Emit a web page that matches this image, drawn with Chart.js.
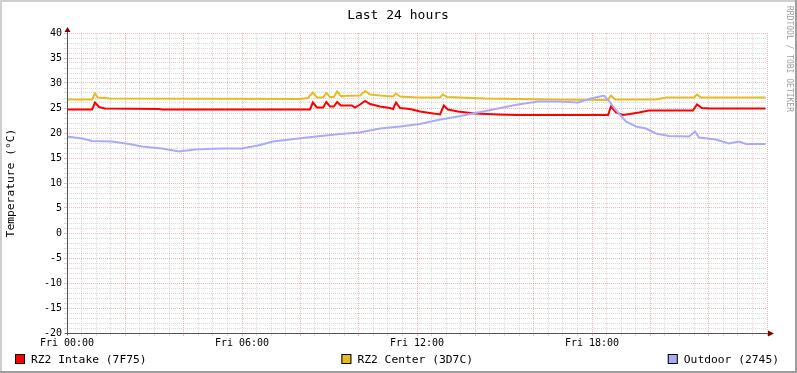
<!doctype html>
<html lang="en">
  <head>
    <meta charset="utf-8">
    <style>
      * { margin: 0; padding: 0; }
      body { background: #fff; }
      canvas { display: block; }
    </style>
  </head>
  <body>
    <canvas id="myChart" width="797" height="373"></canvas>
    <script src="https://cdn.jsdelivr.net/npm/chart.js/dist/chart.umd.min.js"></script>
    <script>
    // data: hours since Fri 00:00, temperatures in °C
    const seriesNames = ['RZ2 Intake (7F75)', 'RZ2 Center (3D7C)', 'Outdoor (2745)'];
    const seriesColors = ['#FF0000', '#E6BC22', '#AAAAF7'];

    const intakeTimes = [0, 0.86, 0.96, 1.10, 1.30, 3.15, 3.26, 8.33, 8.43, 8.57, 8.78, 8.89, 9.02, 9.15, 9.26, 9.39,
      9.77, 9.87, 10.05, 10.22, 10.39, 10.73, 11.07, 11.18, 11.28, 11.42, 11.76, 12.1, 12.44, 12.79, 12.92, 13.06,
      13.4, 13.99, 14.78, 15.46, 18.55, 18.65, 18.82, 19.06, 19.3, 19.61, 19.95, 21.46, 21.6, 21.77, 22.04, 23.95];
    const intakeTemps = [24.7, 24.7, 26.1, 25.2, 24.9, 24.8, 24.7, 24.7, 26.1, 25.1, 25.1, 26.2, 25.3, 25.3, 26.2, 25.5,
      25.5, 25.1, 25.7, 26.4, 25.8, 25.3, 25.0, 24.8, 26.1, 25.0, 24.8, 24.3, 24.0, 23.7, 25.5, 24.7,
      24.3, 23.9, 23.7, 23.6, 23.6, 25.3, 24.1, 23.6, 23.8, 24.1, 24.5, 24.5, 25.7, 25.0, 24.9, 24.9];

    const centerTimes = [0, 0.86, 0.96, 1.06, 1.47, 7.99, 8.26, 8.43, 8.57, 8.78, 8.89, 9.02, 9.15, 9.26, 9.39,
      10.05, 10.22, 10.39, 10.73, 11.18, 11.28, 11.42, 12.03, 12.79, 12.89, 13.03, 14.33, 15.46, 16.59,
      18.55, 18.65, 18.79, 20.19, 20.54, 21.5, 21.6, 21.73, 23.95];
    const centerTemps = [26.7, 26.7, 27.9, 27.1, 26.9, 26.8, 27.0, 28.1, 27.1, 27.1, 28.0, 27.2, 27.2, 28.3, 27.4,
      27.5, 28.4, 27.7, 27.5, 27.3, 27.9, 27.3, 27.1, 27.1, 27.7, 27.2, 26.9, 26.8, 26.7,
      26.6, 27.5, 26.7, 26.7, 27.1, 27.1, 27.7, 27.1, 27.1];

    const outdoorTimes = [0, 0.51, 0.86, 1.54, 2.13, 2.57, 3.26, 3.84, 4.39, 5.31, 6.0, 6.62, 7.06, 8.23, 9.36,
      10.04, 10.73, 11.42, 12.1, 12.72, 13.4, 14.09, 14.78, 15.46, 16.15, 16.83, 17.52, 17.96, 18.41, 18.58,
      18.82, 19.16, 19.51, 19.85, 20.19, 20.64, 21.33, 21.53, 21.67, 22.25, 22.69, 23.04, 23.28, 23.95];
    const outdoorTemps = [19.3, 18.9, 18.4, 18.3, 17.8, 17.3, 16.9, 16.3, 16.7, 16.9, 16.9, 17.6, 18.3, 19.1, 19.8,
      20.1, 20.9, 21.3, 21.8, 22.6, 23.3, 24.1, 24.9, 25.7, 26.3, 26.3, 26.1, 26.9, 27.5, 26.4,
      24.6, 22.3, 21.3, 20.9, 19.9, 19.4, 19.3, 20.3, 19.1, 18.7, 17.9, 18.3, 17.8, 17.8];

    // tick labels
    const xLabelHours = [0, 6, 12, 18];
    const xLabelTexts = ['Fri 00:00', 'Fri 06:00', 'Fri 12:00', 'Fri 18:00'];

    const FONT = 'DejaVu Sans Mono';
    const minorGrid = 'rgba(143, 143, 143, 0.33)';
    const majorGrid = 'rgba(222, 80, 80, 0.42)';

    function points(times, temps) {
      return times.map((t, i) => ({ x: t, y: temps[i] }));
    }

    Chart.defaults.font.family = FONT;
    Chart.defaults.color = '#000';

    const data = {
      datasets: [
        { label: seriesNames[0], data: points(intakeTimes, intakeTemps), borderColor: seriesColors[0], order: 2 },
        { label: seriesNames[1], data: points(centerTimes, centerTemps), borderColor: seriesColors[1], order: 1 },
        { label: seriesNames[2], data: points(outdoorTimes, outdoorTemps), borderColor: seriesColors[2], order: 0 }
      ]
    };

    // rrdtool-ish decorations: frame, axes with arrows, title, legend
    const rrdDecor = {
      id: 'rrdDecor',
      beforeDraw(chart) {
        const { ctx, width, height } = chart;
        ctx.save();
        ctx.fillStyle = '#fff';
        ctx.fillRect(0, 0, width, height);
        ctx.fillStyle = '#CFCFCF';
        ctx.fillRect(0, 0, width, 2);
        ctx.fillRect(0, 0, 2, height);
        ctx.fillStyle = '#9E9E9E';
        ctx.fillRect(0, height - 2, width, 2);
        ctx.fillRect(width - 2, 0, 2, height);
        ctx.restore();
      },
      afterDraw(chart) {
        const { ctx, chartArea: { top, bottom, left, right } } = chart;
        ctx.save();

        // axes
        ctx.strokeStyle = '#555';
        ctx.lineWidth = 1;
        ctx.beginPath();
        ctx.moveTo(left + 0.5, bottom + 2);
        ctx.lineTo(left + 0.5, top - 4);
        ctx.moveTo(left - 2, bottom + 0.5);
        ctx.lineTo(right + 4, bottom + 0.5);
        ctx.stroke();

        // arrows
        ctx.fillStyle = '#7F0000';
        ctx.beginPath();
        ctx.moveTo(left + 0.5, top - 6);
        ctx.lineTo(left - 2.5, top - 1);
        ctx.lineTo(left + 3.5, top - 1);
        ctx.closePath();
        ctx.fill();
        ctx.beginPath();
        ctx.moveTo(right + 7, bottom + 0.5);
        ctx.lineTo(right + 1, bottom - 2.5);
        ctx.lineTo(right + 1, bottom + 3.5);
        ctx.closePath();
        ctx.fill();

        // title
        ctx.fillStyle = '#000';
        ctx.font = '13px ' + FONT;
        ctx.textAlign = 'center';
        ctx.textBaseline = 'alphabetic';
        ctx.fillText('Last 24 hours', 398, 19);

        // y axis title
        ctx.save();
        ctx.translate(11, 183);
        ctx.rotate(-Math.PI / 2);
        ctx.font = '11.3px ' + FONT;
        ctx.textBaseline = 'middle';
        ctx.fillText('Temperature (°C)', 0, 0);
        ctx.restore();

        // watermark
        ctx.save();
        ctx.translate(789, 6);
        ctx.rotate(Math.PI / 2);
        ctx.font = '8px ' + FONT;
        ctx.fillStyle = '#A0A0A0';
        ctx.textAlign = 'left';
        ctx.textBaseline = 'middle';
        ctx.fillText('RRDTOOL / TOBI OETIKER', 0, 0);
        ctx.restore();

        // legend, justified across the width
        ctx.font = '11.3px ' + FONT;
        ctx.textAlign = 'left';
        ctx.textBaseline = 'alphabetic';
        const box = 10, gap = 6;
        const widths = chart.data.datasets.map(ds => box + gap + ctx.measureText(ds.label).width);
        const total = widths.reduce((a, b) => a + b, 0);
        const space = (779 - 15 - total) / (widths.length - 1);
        let x = 15;
        chart.data.datasets.forEach((ds, i) => {
          ctx.fillStyle = ds.borderColor;
          ctx.fillRect(x, 354, box, box);
          ctx.strokeStyle = '#000';
          ctx.strokeRect(x + 0.5, 354.5, box - 1, box - 1);
          ctx.fillStyle = '#000';
          ctx.fillText(ds.label, x + box + gap, 363);
          x += widths[i] + space;
        });

        ctx.restore();
      }
    };

    const config = {
      type: 'line',
      data,
      options: {
        responsive: false,
        animation: false,
        devicePixelRatio: 1,
        layout: { padding: { top: 33, right: 30, left: 0, bottom: 0 } },
        elements: {
          line: { borderWidth: 2, tension: 0, fill: false },
          point: { radius: 0 }
        },
        scales: {
          x: {
            type: 'linear',
            min: 0,
            max: 24,
            afterFit(scale) { scale.height = 40; },
            ticks: {
              stepSize: 0.5,
              autoSkip: false,
              maxRotation: 0,
              padding: 1,
              font: { size: 10 },
              callback: (v) => {
                const k = xLabelHours.indexOf(v);
                return k >= 0 ? xLabelTexts[k] : '';
              }
            },
            grid: {
              lineWidth: 1,
              tickLength: 3,
              color: (c) => (c.tick && c.tick.value % 2 === 0) ? majorGrid : minorGrid,
              tickColor: (c) => (c.tick && c.tick.value % 2 === 0) ? majorGrid : minorGrid
            },
            border: { display: false, dash: [1, 1] }
          },
          y: {
            min: -20,
            max: 40,
            afterFit(scale) { scale.width = 67; },
            ticks: {
              stepSize: 1,
              autoSkip: false,
              padding: 2,
              font: { size: 10 },
              callback: (v) => (v % 5 === 0 ? String(v) : '')
            },
            grid: {
              lineWidth: 1,
              tickLength: 3,
              color: (c) => (c.tick && c.tick.value % 5 === 0) ? majorGrid : minorGrid,
              tickColor: (c) => (c.tick && c.tick.value % 5 === 0) ? majorGrid : minorGrid
            },
            border: { display: false, dash: [1, 1] }
          }
        },
        plugins: {
          legend: { display: false },
          tooltip: { enabled: false }
        }
      },
      plugins: [rrdDecor]
    };

    const myChart = new Chart(document.getElementById('myChart'), config);
    </script>
  </body>
</html>
